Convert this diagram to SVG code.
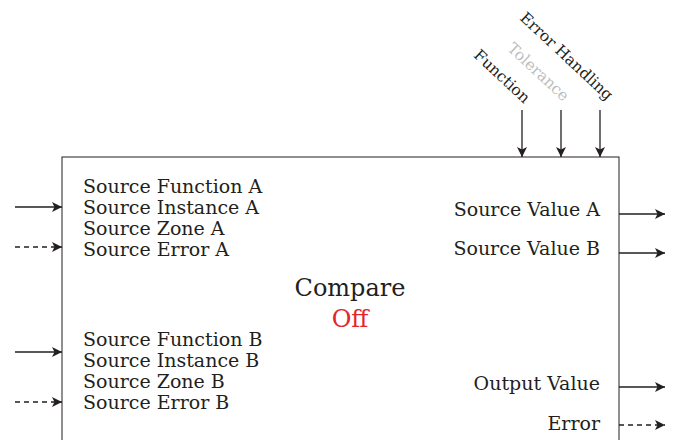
<svg xmlns="http://www.w3.org/2000/svg" width="674" height="440" viewBox="0 0 674 440">
<defs>
<marker id="ah" viewBox="0 0 10 10" refX="10" refY="5" markerWidth="10" markerHeight="10" markerUnits="userSpaceOnUse" orient="auto">
<path d="M0,0 L10,5 L0,10 L2.5,5 Z" fill="#231f20"/>
</marker>
</defs>
<style>
.t{font-family:"DejaVu Serif","Liberation Serif",serif;font-size:19px;fill:#231f20}
.r{font-family:"DejaVu Serif","Liberation Serif",serif;font-size:15.5px;fill:#231f20}
.c{font-family:"DejaVu Serif","Liberation Serif",serif;font-size:24px;text-anchor:middle}
.l{stroke:#231f20;stroke-width:1.3;fill:none;marker-end:url(#ah)}
.d{stroke-dasharray:5,4}
</style>
<rect width="674" height="440" fill="#fff"/>
<g id="compare">
<rect x="62" y="157" width="557" height="300" fill="#fff" stroke="#231f20" stroke-width="1"/>
<text class="c" x="350" y="296" fill="#231f20">Compare</text>
<text class="c" x="350" y="327" fill="#e2262b">Off</text>
<text class="t" x="83" y="193">Source Function A</text>
<text class="t" x="83" y="214">Source Instance A</text>
<text class="t" x="83" y="235">Source Zone A</text>
<text class="t" x="83" y="256">Source Error A</text>
<text class="t" x="83" y="346">Source Function B</text>
<text class="t" x="83" y="367">Source Instance B</text>
<text class="t" x="83" y="388">Source Zone B</text>
<text class="t" x="83" y="409">Source Error B</text>
<text class="t" x="600" y="216" text-anchor="end">Source Value A</text>
<text class="t" x="600" y="255" text-anchor="end">Source Value B</text>
<text class="t" x="600" y="390" text-anchor="end">Output Value</text>
<text class="t" x="600" y="430" text-anchor="end">Error</text>
</g>
<g id="top-labels">
<text class="r" transform="translate(524,104) rotate(43)" text-anchor="end">Function</text>
<text class="r" transform="translate(563,102) rotate(43)" text-anchor="end" style="fill:#bcbec0">Tolerance</text>
<text class="r" transform="translate(607,101) rotate(43)" text-anchor="end">Error Handling</text>
</g>
<g id="connectors">
<line class="l" x1="15" y1="207" x2="62" y2="207"/>
<line class="l d" x1="15" y1="247" x2="62" y2="247"/>
<line class="l" x1="15" y1="352" x2="62" y2="352"/>
<line class="l d" x1="15" y1="402" x2="62" y2="402"/>
<line class="l" x1="619" y1="214" x2="665" y2="214"/>
<line class="l" x1="619" y1="253" x2="665" y2="253"/>
<line class="l" x1="619" y1="387" x2="665" y2="387"/>
<line class="l d" x1="619" y1="425" x2="665" y2="425"/>
<line class="l" x1="522" y1="110" x2="522" y2="157"/>
<line class="l" x1="561" y1="110" x2="561" y2="157"/>
<line class="l" x1="600" y1="110" x2="600" y2="157"/>
</g>
</svg>
